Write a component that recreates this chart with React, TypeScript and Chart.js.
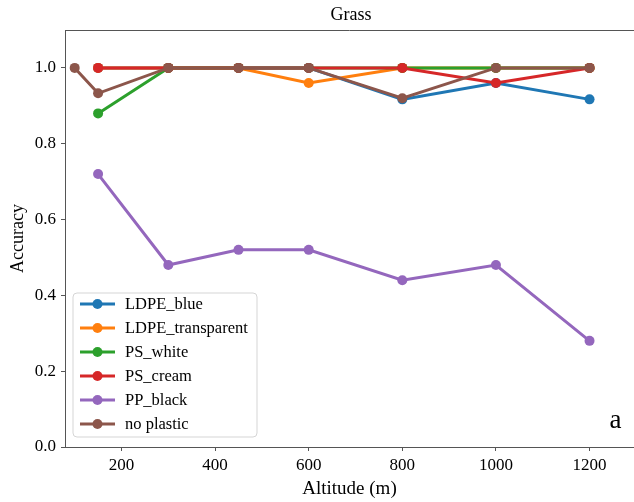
import React, { useEffect, useRef } from "react";
import { Chart, registerables } from "chart.js";

Chart.register(...registerables);

const altitudes = [100, 150, 300, 450, 600, 800, 1000, 1200];
const seriesNames = ["LDPE_blue", "LDPE_transparent", "PS_white", "PS_cream", "PP_black", "no plastic"];
const ldpeBlue = [null, 1.0, 1.0, 1.0, 1.0, 0.917, 0.96, 0.917];
const ldpeTransparent = [null, 1.0, 1.0, 1.0, 0.96, 1.0, 1.0, 1.0];
const psWhite = [null, 0.88, 1.0, 1.0, 1.0, 1.0, 1.0, 1.0];
const psCream = [null, 1.0, 1.0, 1.0, 1.0, 1.0, 0.96, 1.0];
const ppBlack = [null, 0.72, 0.48, 0.52, 0.52, 0.44, 0.48, 0.28];
const noPlastic = [1.0, 0.933, 1.0, 1.0, 1.0, 0.92, 1.0, 1.0];
const xTicks = [200, 400, 600, 800, 1000, 1200];
const yTicks = [0, 0.2, 0.4, 0.6, 0.8, 1.0];
const colors = ["#1f77b4", "#ff7f0e", "#2ca02c", "#d62728", "#9467bd", "#8c564b"];

const FONT = "'Liberation Serif', 'DejaVu Serif', serif";
const AXIS = "#555";

export default function App() {
  const ref = useRef<HTMLCanvasElement | null>(null);
  useEffect(() => {
    document.body.style.margin = "0";
    const all = [ldpeBlue, ldpeTransparent, psWhite, psCream, ppBlack, noPlastic];
    const datasets = all.map((vals, i) => ({
      label: seriesNames[i],
      data: altitudes
        .map((x, j) => ({ x, y: vals[j] }))
        .filter((p) => p.y !== null),
      borderColor: colors[i],
      backgroundColor: colors[i],
      borderWidth: 3,
      pointRadius: 5,
      pointBorderWidth: 0,
      pointBackgroundColor: colors[i],
      tension: 0,
      order: all.length - i,
      clip: false as any,
    }));

    const overlay = {
      id: "overlay",
      afterDraw(chart: any) {
        const ctx = chart.ctx;
        const area = chart.chartArea;
        ctx.save();
        // top spine
        ctx.strokeStyle = AXIS;
        ctx.lineWidth = 1;
        ctx.beginPath();
        ctx.moveTo(area.left, area.top + 0.5);
        ctx.lineTo(634, area.top + 0.5);
        ctx.stroke();
        // title
        ctx.fillStyle = "#000";
        ctx.font = `18px ${FONT}`;
        ctx.textAlign = "center";
        ctx.textBaseline = "middle";
        ctx.fillText("Grass", 351, 15);
        // legend
        const bx = 73, by = 293, bw = 184, bh = 144, r = 4;
        ctx.beginPath();
        ctx.moveTo(bx + r, by);
        ctx.lineTo(bx + bw - r, by);
        ctx.arcTo(bx + bw, by, bx + bw, by + r, r);
        ctx.lineTo(bx + bw, by + bh - r);
        ctx.arcTo(bx + bw, by + bh, bx + bw - r, by + bh, r);
        ctx.lineTo(bx + r, by + bh);
        ctx.arcTo(bx, by + bh, bx, by + bh - r, r);
        ctx.lineTo(bx, by + r);
        ctx.arcTo(bx, by, bx + r, by, r);
        ctx.closePath();
        ctx.fillStyle = "rgba(255,255,255,0.8)";
        ctx.fill();
        ctx.strokeStyle = "#d5d5d5";
        ctx.stroke();
        chart.data.datasets.forEach((ds: any, i: number) => {
          const y = 304 + i * 24;
          ctx.strokeStyle = ds.borderColor;
          ctx.lineWidth = 3;
          ctx.beginPath();
          ctx.moveTo(80, y);
          ctx.lineTo(115, y);
          ctx.stroke();
          ctx.fillStyle = ds.borderColor;
          ctx.beginPath();
          ctx.arc(97.5, y, 5, 0, Math.PI * 2);
          ctx.fill();
          ctx.fillStyle = "#000";
          ctx.font = `16.5px ${FONT}`;
          ctx.textAlign = "left";
          ctx.textBaseline = "middle";
          ctx.fillText(ds.label, 125, y + 1);
        });
        // panel letter
        ctx.font = `27px ${FONT}`;
        ctx.textAlign = "center";
        ctx.textBaseline = "middle";
        ctx.fillStyle = "#000";
        ctx.fillText("a", 615.5, 421);
        ctx.restore();
      },
    };

    const chart = new Chart(ref.current!, {
      type: "line",
      data: { datasets: datasets as any },
      options: {
        animation: false,
        responsive: false,
        layout: { autoPadding: false, padding: { top: 30, right: 0, left: 0, bottom: 0 } },
        plugins: { legend: { display: false }, tooltip: { enabled: false }, title: { display: false } },
        scales: {
          x: {
            type: "linear",
            min: 79.3,
            max: 1295,
            afterFit: (s: any) => { s.height = 55; s.paddingLeft = 0; s.paddingRight = 0; },
            afterBuildTicks: (s: any) => { s.ticks = xTicks.map((v) => ({ value: v })); },
            grid: { drawOnChartArea: false, tickLength: 4, color: AXIS, tickWidth: 1 },
            border: { color: AXIS, width: 1 },
            ticks: { color: "#000", font: { family: FONT, size: 17 }, padding: 4, maxRotation: 0, callback: (v: any) => String(v) },
            title: { display: true, text: "Altitude (m)", color: "#000", font: { family: FONT, size: 19 }, padding: { top: 0, bottom: 2 } },
          },
          y: {
            type: "linear",
            min: 0,
            max: 1.1,
            afterFit: (s: any) => { s.width = 65; s.paddingTop = 0; s.paddingBottom = 0; },
            afterBuildTicks: (s: any) => { s.ticks = yTicks.map((v) => ({ value: v })); },
            grid: { drawOnChartArea: false, tickLength: 4, color: AXIS, tickWidth: 1 },
            border: { color: AXIS, width: 1 },
            ticks: { color: "#000", font: { family: FONT, size: 17 }, padding: 5, callback: (v: any) => Number(v).toFixed(1) },
            title: { display: true, text: "Accuracy", color: "#000", font: { family: FONT, size: 18 }, padding: { top: 7, bottom: 0 } },
          },
        },
      },
      plugins: [overlay],
    });
    return () => chart.destroy();
  }, []);
  return (
    <div style={{ width: 634, height: 502 }}>
      <canvas ref={ref} width={634} height={502} />
    </div>
  );
}
